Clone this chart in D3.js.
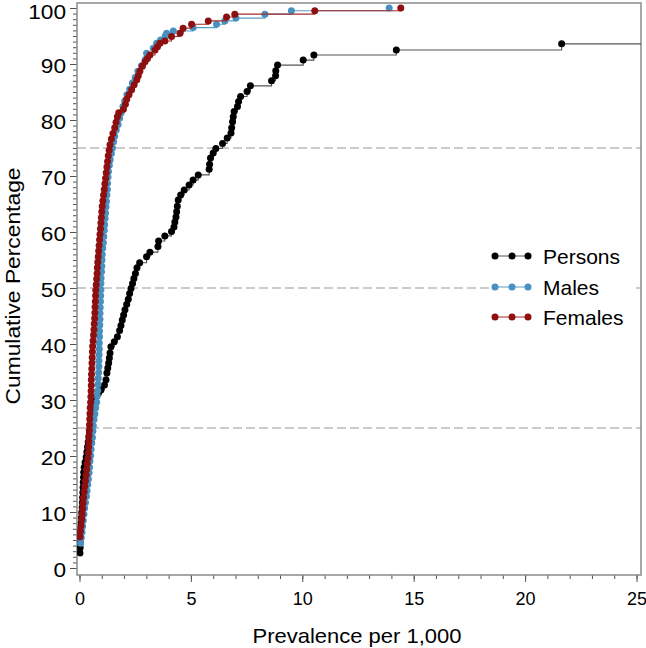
<!DOCTYPE html>
<html><head><meta charset="utf-8">
<script src="https://cdn.jsdelivr.net/npm/d3@7"></script>
<style>
body{margin:0;background:#fff}
svg{display:block}
text{font-family:"Liberation Sans",Arial,sans-serif;fill:#000}
</style>
</head><body><svg id="c" width="646" height="648"></svg>
<script>
// ---------------- data ----------------
const seriesNames = ["Persons", "Males", "Females"];
const xTicks = [0, 5, 10, 15, 20, 25];
const yTicks = [0, 10, 20, 30, 40, 50, 60, 70, 80, 90, 100];
const refLines = [25, 50, 75];
const xTitle = "Prevalence per 1,000";
const yTitle = "Cumulative Percentage";

const personsX = [0.02,0.03,0.04,0.05,0.06,0.07,0.08,0.09,0.10,0.12,0.13,0.14,0.15,0.16,0.17,0.18,0.19,0.21,0.25,0.30,0.33,0.36,0.39,0.42,0.45,0.48,0.52,0.55,0.59,0.63,0.67,0.74,0.85,0.96,1.12,1.19,1.23,1.27,1.31,1.34,1.37,1.41,1.56,1.70,1.80,1.86,1.92,1.98,2.04,2.12,2.19,2.25,2.31,2.38,2.44,2.51,2.58,2.70,3.01,3.16,3.52,3.55,3.83,4.13,4.24,4.28,4.33,4.36,4.39,4.43,4.54,4.70,4.92,5.10,5.33,5.82,5.84,5.88,6.00,6.12,6.42,6.63,6.80,6.83,6.87,6.90,6.94,7.09,7.14,7.23,7.52,7.67,8.62,8.80,8.81,8.89,10.04,10.52,14.22,21.64,26.8,29.5,33.1,37.9,44.6,57.3,83.0];
const personsY = [2.7,3.6,4.5,5.4,6.3,7.2,8.1,9.0,9.9,10.8,11.7,12.6,13.5,14.4,15.3,16.2,17.1,18.0,18.9,19.8,20.7,21.6,22.5,23.4,24.3,25.2,26.1,27.0,27.9,28.8,29.7,30.6,31.2,31.8,32.7,33.6,34.8,35.7,36.6,37.5,38.4,39.5,40.4,41.3,42.4,43.3,44.3,45.2,46.1,47.1,48.0,49.0,49.9,50.8,51.7,52.6,53.6,54.5,55.6,56.4,57.4,58.4,59.3,60.1,60.9,61.8,62.7,63.6,64.6,65.7,66.6,67.5,68.4,69.3,70.2,71.2,72.1,73.2,74.1,74.9,75.8,76.8,77.7,78.6,79.7,80.6,81.5,82.4,83.3,84.2,85.1,86.1,87.0,87.9,88.8,89.8,90.7,91.6,92.5,93.6,94.5,95.4,96.3,97.2,98.1,99.1,100];

const malesX = [0.05,0.08,0.11,0.14,0.17,0.20,0.23,0.27,0.31,0.34,0.37,0.40,0.43,0.45,0.47,0.50,0.52,0.55,0.58,0.60,0.62,0.65,0.69,0.73,0.77,0.80,0.82,0.83,0.84,0.86,0.87,0.87,0.88,0.89,0.89,0.90,0.90,0.91,0.92,0.92,0.93,0.94,0.95,0.96,0.96,0.97,0.99,1.00,1.01,1.02,1.04,1.07,1.09,1.11,1.13,1.15,1.17,1.19,1.21,1.23,1.25,1.26,1.28,1.30,1.34,1.38,1.43,1.48,1.53,1.58,1.65,1.73,1.80,1.87,1.95,2.03,2.13,2.25,2.37,2.50,2.62,2.78,2.95,3.01,3.31,3.46,3.64,3.85,3.91,4.21,5.10,6.15,6.52,7.02,8.32,9.51,13.90];
const malesY = [4.4,5.4,6.4,7.4,8.5,9.6,10.7,11.7,12.8,13.8,14.9,15.9,17.0,18.0,19.1,20.1,21.2,22.3,23.3,24.4,25.4,26.5,27.5,28.6,29.6,30.7,31.7,32.8,33.9,34.9,36.0,37.0,38.1,39.1,40.2,41.3,42.3,43.4,44.4,45.5,46.5,47.6,48.6,49.7,50.8,51.8,52.9,53.9,55.0,56.0,57.1,58.1,59.2,60.3,61.3,62.4,63.4,64.5,65.5,66.6,67.6,68.7,69.8,70.8,71.9,72.9,74.0,75.0,76.1,77.1,78.2,79.2,80.3,81.3,82.4,83.4,84.5,85.5,86.6,87.6,88.7,89.7,90.8,91.9,92.8,93.7,94.3,95.0,95.5,95.9,96.5,97.1,97.7,98.2,98.9,99.5,100];

const femalesX = [0.02,0.04,0.07,0.10,0.12,0.14,0.16,0.18,0.21,0.24,0.27,0.30,0.32,0.35,0.38,0.40,0.41,0.42,0.43,0.44,0.45,0.46,0.47,0.48,0.50,0.51,0.52,0.53,0.53,0.54,0.55,0.56,0.57,0.58,0.59,0.61,0.63,0.65,0.66,0.68,0.69,0.70,0.71,0.72,0.73,0.75,0.77,0.79,0.80,0.82,0.84,0.86,0.88,0.90,0.92,0.94,0.96,0.98,1.00,1.02,1.05,1.08,1.11,1.14,1.17,1.20,1.23,1.26,1.29,1.33,1.37,1.43,1.50,1.58,1.64,1.70,1.76,1.97,2.06,2.12,2.22,2.34,2.45,2.57,2.64,2.71,2.82,2.94,3.05,3.16,3.39,3.50,3.61,3.83,4.13,4.51,4.65,5.03,5.78,6.60,6.97,10.56,14.42];
const femalesY = [5.6,6.6,7.6,8.6,9.6,10.6,11.6,12.6,13.6,14.6,15.6,16.6,17.6,18.6,19.6,20.6,21.6,22.6,23.6,24.6,25.6,26.6,27.6,28.6,29.6,30.6,31.6,32.6,33.6,34.6,35.6,36.6,37.6,38.6,39.6,40.6,41.6,42.6,43.6,44.6,45.6,46.6,47.6,48.6,49.6,50.6,51.6,52.6,53.6,54.6,55.6,56.6,57.6,58.6,59.6,60.6,61.6,62.6,63.6,64.6,65.6,66.6,67.6,68.6,69.6,70.6,71.6,72.6,73.6,74.6,75.6,76.6,77.6,78.6,79.6,80.6,81.3,81.9,82.8,83.7,84.5,85.4,86.3,87.2,87.9,88.7,89.6,90.4,91.0,91.6,92.5,93.1,93.7,94.1,94.9,95.5,96.4,97.1,97.7,98.4,98.9,99.5,100];

const seriesColors = ["#000000", "#4790bf", "#8e0f0f"];
const lineColors = ["#555555", "#5a9dc8", "#a52a2a"];

// ---------------- layout ----------------
const svg = d3.select("#c");
const frame = {left: 77, right: 641, top: 3, bottom: 575};
const x = d3.scaleLinear().domain([0, 25]).range([79.5, 636.5]);
const y = d3.scaleLinear().domain([0, 100]).range([568, 8]);

const series = [
  {name: seriesNames[0], xs: personsX, ys: personsY},
  {name: seriesNames[1], xs: malesX, ys: malesY},
  {name: seriesNames[2], xs: femalesX, ys: femalesY}
].map((s, i) => ({...s, color: seriesColors[i], line: lineColors[i],
  pts: s.xs.map((v, j) => ({x: v, y: s.ys[j]}))}));

svg.append("defs").append("clipPath").attr("id", "clip")
  .append("rect").attr("x", frame.left).attr("y", frame.top)
  .attr("width", frame.right - frame.left).attr("height", frame.bottom - frame.top);

// reference dashed lines
svg.append("g").selectAll("line").data(refLines).join("line")
  .attr("x1", frame.left).attr("x2", frame.right)
  .attr("y1", d => y(d)).attr("y2", d => y(d))
  .attr("stroke", "#9a9a9a").attr("stroke-width", 1.2)
  .attr("stroke-dasharray", "9,4");

// axes
const xMinor = svg.append("g").attr("transform", `translate(0,${frame.bottom})`)
  .call(d3.axisBottom(x).ticks(25).tickSize(4).tickFormat(""));
const xMajor = svg.append("g").attr("transform", `translate(0,${frame.bottom})`)
  .call(d3.axisBottom(x).tickValues(xTicks).tickSize(7).tickPadding(10).tickFormat(d3.format("d")));
const yMinor = svg.append("g").attr("transform", `translate(${frame.left},0)`)
  .call(d3.axisLeft(y).ticks(100).tickSize(4).tickFormat(""));
const yMajor = svg.append("g").attr("transform", `translate(${frame.left},0)`)
  .call(d3.axisLeft(y).tickValues(yTicks).tickSize(7).tickPadding(4).tickFormat(d3.format("d")));
[xMinor, xMajor, yMinor, yMajor].forEach(g => {
  g.select(".domain").remove();
  g.selectAll(".tick line").attr("stroke", "#555").attr("stroke-width", 1);
});
xMajor.selectAll(".tick text").attr("font-size", 18).attr("fill", "#000");
yMajor.selectAll(".tick text").attr("font-size", 20).attr("fill", "#000")
  .attr("dy", d => d === 100 ? "0.52em" : "0.42em")
  .attr("textLength", d => String(d).length * 12.6).attr("lengthAdjust", "spacingAndGlyphs");

// frame
svg.append("rect").attr("x", frame.left).attr("y", frame.top)
  .attr("width", frame.right - frame.left).attr("height", frame.bottom - frame.top)
  .attr("fill", "none").attr("stroke", "#8a8a8a").attr("stroke-width", 1.5);

// series
const plot = svg.append("g").attr("clip-path", "url(#clip)");
const stepLine = d3.line().x(d => x(d.x)).y(d => y(d.y)).curve(d3.curveStepAfter);
series.forEach(s => {
  const g = plot.append("g");
  g.append("path").datum(s.pts).attr("d", stepLine)
    .attr("fill", "none").attr("stroke", s.line).attr("stroke-width", 1.1);
  g.selectAll("circle").data(s.pts.filter(p => p.x <= 25)).join("circle")
    .attr("cx", d => x(d.x)).attr("cy", d => y(d.y)).attr("r", 3.5)
    .attr("fill", s.color);
});

// legend
const leg = svg.append("g");
leg.append("rect").attr("x", 492).attr("y", 242).attr("width", 143).attr("height", 88).attr("fill", "#fff");
const legY = [256, 287, 317];
series.forEach((s, i) => {
  const row = leg.append("g").attr("transform", `translate(0,${legY[i]})`);
  row.append("line").attr("x1", 492).attr("x2", 531).attr("y1", 0).attr("y2", 0)
    .attr("stroke", s.line).attr("stroke-width", 1.1);
  row.selectAll("circle").data([495, 512, 528]).join("circle")
    .attr("cx", d => d).attr("cy", 0).attr("r", 3.5).attr("fill", s.color);
  row.append("text").attr("x", 543).attr("y", 0).attr("dy", "0.36em")
    .attr("font-size", 21).text(s.name);
});

// titles
svg.append("text").attr("x", 357).attr("y", 643).attr("text-anchor", "middle")
  .attr("font-size", 21).attr("textLength", 209).attr("lengthAdjust", "spacingAndGlyphs").text(xTitle);
svg.append("text").attr("transform", "translate(20,286) rotate(-90)")
  .attr("text-anchor", "middle").attr("font-size", 21)
  .attr("textLength", 237).attr("lengthAdjust", "spacingAndGlyphs").text(yTitle);
</script></body></html>
